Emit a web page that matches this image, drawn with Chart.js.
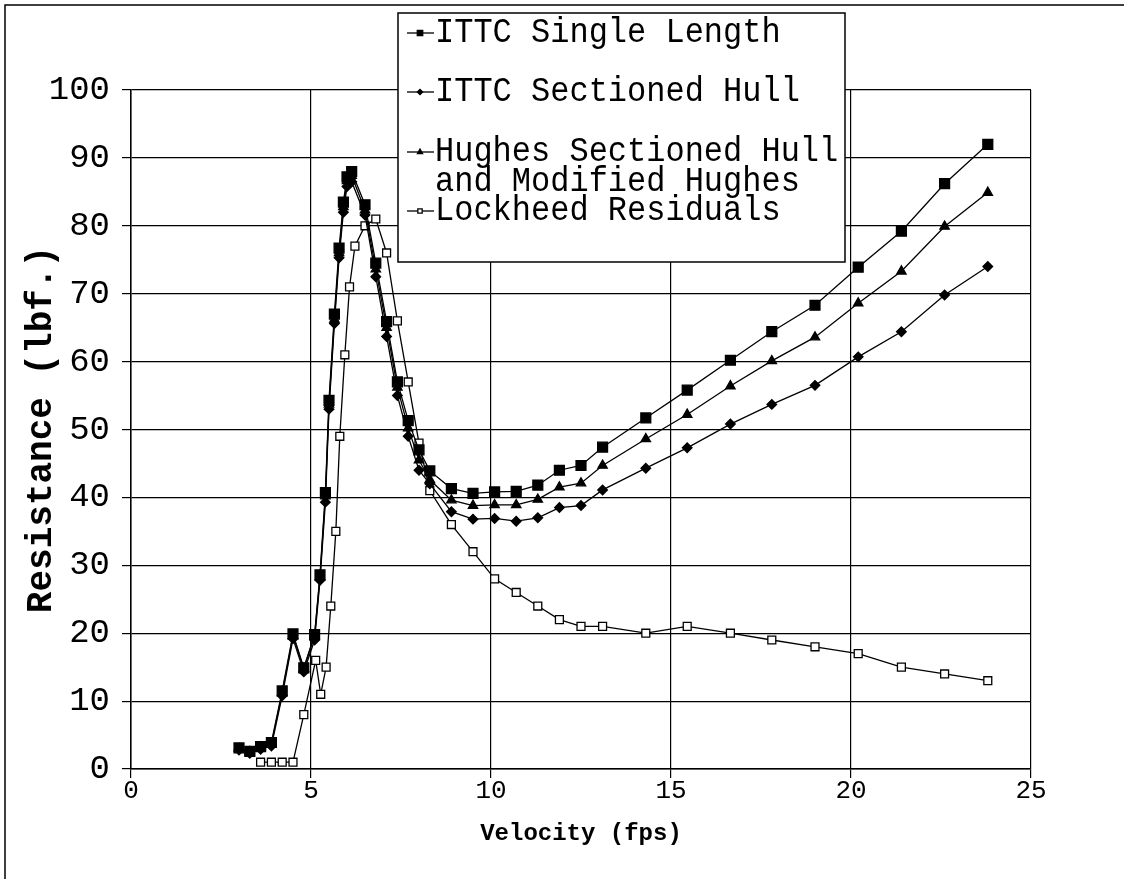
<!DOCTYPE html>
<html>
<head>
<meta charset="utf-8">
<title>Resistance vs Velocity</title>
<script src="https://cdn.jsdelivr.net/npm/chart.js@4.4.1/dist/chart.umd.min.js"></script>
<style>
	html, body { margin: 0; padding: 0; background: #fff; }
	#grafico { display: block; }
</style>
</head>
<body>
<canvas id="grafico" width="1124" height="879"></canvas>
<script>
// velocity (fps) shared by the three ITTC / Hughes runs
var velocidade = [3.0, 3.3, 3.6, 3.9, 4.2, 4.5, 4.8, 5.1, 5.25, 5.4, 5.5, 5.65, 5.78, 5.9, 6.0, 6.13,
	6.5, 6.8, 7.1, 7.4, 7.7, 8.0, 8.3, 8.9, 9.5, 10.1, 10.7, 11.3, 11.9, 12.5, 13.1,
	14.3, 15.45, 16.65, 17.8, 19.0, 20.2, 21.4, 22.6, 23.8];

// resistance (lbf.)
var ittcSingleLength = [3.1, 2.6, 3.3, 3.9, 11.5, 19.9, 14.9, 19.8, 28.6, 40.7, 54.3, 67.0, 76.7, 83.5, 87.2, 88.0,
	83.1, 74.5, 65.9, 57.0, 51.3, 47.0, 43.9, 41.3, 40.6, 40.8, 40.9, 41.8, 44.0, 44.7, 47.4,
	51.7, 55.8, 60.2, 64.4, 68.3, 73.9, 79.2, 86.2, 92.0];

var ittcSectionedHull = [2.8, 2.3, 2.9, 3.4, 10.8, 19.2, 14.3, 19.0, 27.8, 39.3, 53.0, 65.6, 75.3, 82.0, 85.8, 86.5,
	81.6, 72.5, 63.7, 55.0, 49.0, 44.0, 42.0, 37.9, 36.8, 36.9, 36.5, 37.0, 38.5, 38.8, 41.1,
	44.3, 47.3, 50.8, 53.7, 56.5, 60.7, 64.4, 69.8, 74.0];

var hughesSectionedHull = [3.0, 2.5, 3.2, 3.7, 11.2, 19.6, 14.8, 19.6, 28.3, 40.2, 53.7, 66.2, 76.0, 82.8, 86.6, 87.4,
	82.3, 73.6, 65.0, 56.2, 50.2, 45.5, 42.6, 39.6, 38.8, 38.9, 38.9, 39.7, 41.5, 42.1, 44.7,
	48.6, 52.2, 56.4, 60.1, 63.6, 68.6, 73.3, 79.9, 84.9];

var velocidadeLockheed = [3.6, 3.9, 4.2, 4.5, 4.8, 5.13, 5.27, 5.42, 5.55, 5.69, 5.8, 5.94, 6.07, 6.22,
	6.5, 6.8, 7.1, 7.4, 7.7, 8.0, 8.3, 8.9, 9.5, 10.1, 10.7, 11.3, 11.9, 12.5, 13.1,
	14.3, 15.45, 16.65, 17.8, 19.0, 20.2, 21.4, 22.6, 23.8];

var lockheedResiduals = [1, 1, 1, 1, 8, 16, 11, 15, 24, 35, 49, 61, 71, 77,
	80, 81, 76, 66, 57, 48, 41, 36, 32, 28, 26, 24, 22, 21, 21,
	20, 21, 20, 19, 18, 17, 15, 14, 13];

var rotulosSeries = ['ITTC Single Length', 'ITTC Sectioned Hull',
	'Hughes Sectioned Hull and Modified Hughes', 'Lockheed Residuals'];

var FONTE = "'Liberation Mono', 'Courier New', monospace";

var Resistencia = Resistencia || {};

// legend box drawn by hand: the Hughes entry wraps onto two lines
Resistencia.Legenda = {
	id: 'legendaCaixa',
	afterDraw: function(chart, args, opts) {
		var ctx = chart.ctx;
		ctx.save();
		ctx.fillStyle = '#fff';
		ctx.fillRect(opts.x, opts.y, opts.w, opts.h);
		ctx.strokeStyle = '#000';
		ctx.lineWidth = 1.5;
		ctx.strokeRect(opts.x, opts.y, opts.w, opts.h);

		ctx.font = opts.tamanho + 'px ' + FONTE;
		ctx.textBaseline = 'middle';
		ctx.textAlign = 'left';

		opts.itens.forEach(function(item) {
			var ds = chart.data.datasets[item.indice];
			var y = item.linhas[0];
			ctx.strokeStyle = '#000';
			ctx.lineWidth = 1.3;
			ctx.beginPath();
			ctx.moveTo(opts.x + 9, y);
			ctx.lineTo(opts.x + 36, y);
			ctx.stroke();
			ctx.fillStyle = ds.pointBackgroundColor;
			Chart.helpers.drawPoint(ctx, {
				pointStyle: ds.pointStyle,
				radius: ds.pointRadius * 0.55,
				rotation: 0,
				borderWidth: 1.2
			}, opts.x + 22, y);
			ctx.fillStyle = '#000';
			item.textos.forEach(function(t, i) {
				// the print is a little taller than wide
				ctx.save();
				ctx.translate(opts.x + 37, item.linhas[i]);
				ctx.scale(1, 1.12);
				ctx.fillText(t, 0, 0);
				ctx.restore();
			});
		});
		ctx.restore();
	}
};

// thin frame round the whole figure
Resistencia.Moldura = {
	id: 'moldura',
	beforeDraw: function(chart) {
		var ctx = chart.ctx;
		ctx.save();
		ctx.strokeStyle = '#000';
		ctx.lineWidth = 1.5;
		ctx.beginPath();
		ctx.moveTo(5, chart.height);
		ctx.lineTo(5, 5);
		ctx.lineTo(chart.width, 5);
		ctx.stroke();
		ctx.restore();
	}
};

Resistencia.Grafico = (function() {

	function Grafico() {
		this.ctx = document.getElementById('grafico').getContext('2d');
	}

	function pares(xs, ys) {
		return xs.map(function(x, i) { return { x: x, y: ys[i] }; });
	}

	function serie(rotulo, xs, ys, estilo, raio, preenchido) {
		return {
			label: rotulo,
			data: pares(xs, ys),
			showLine: true,
			borderColor: '#000',
			borderWidth: 1.3,
			pointStyle: estilo,
			pointRadius: raio,
			pointBorderColor: '#000',
			pointBorderWidth: 1.3,
			pointBackgroundColor: preenchido ? '#000' : '#fff',
			tension: 0
		};
	}

	Grafico.prototype.iniciar = function() {
		new Chart(this.ctx, {
			type: 'scatter',
			data: {
				datasets: [
					serie(rotulosSeries[0], velocidade, ittcSingleLength, 'rect', 7, true),
					serie(rotulosSeries[1], velocidade, ittcSectionedHull, 'rectRot', 4.8, true),
					serie(rotulosSeries[2], velocidade, hughesSectionedHull, 'triangle', 5.4, true),
					serie(rotulosSeries[3], velocidadeLockheed, lockheedResiduals, 'rect', 5.6, false)
				]
			},
			options: {
				responsive: false,
				animation: false,
				events: [],
				layout: { padding: { top: 90, right: 93, left: 0, bottom: 0 } },
				scales: {
					x: {
						type: 'linear',
						min: 0,
						max: 25,
						afterFit: function(s) { s.height = 110; },
						ticks: { stepSize: 5, color: '#000', padding: -2, font: { family: FONTE, size: 26 } },
						grid: { color: '#000', lineWidth: 1.2, tickLength: 9 },
						border: { color: '#000', width: 1.5 },
						title: {
							display: true,
							text: 'Velocity (fps)',
							color: '#000',
							font: { family: FONTE, size: 24, weight: 'bold' },
							padding: { bottom: 31 }
						}
					},
					y: {
						min: 0,
						max: 100,
						afterFit: function(s) { s.width = 131; },
						ticks: { stepSize: 10, color: '#000', padding: 12, font: { family: FONTE, size: 34 } },
						grid: { color: '#000', lineWidth: 1.2, tickLength: 9 },
						border: { color: '#000', width: 1.5 },
						title: {
							display: true,
							text: 'Resistance (lbf.)',
							color: '#000',
							font: { family: FONTE, size: 36, weight: 'bold' },
							padding: { top: 20 }
						}
					}
				},
				plugins: {
					legend: { display: false },
					tooltip: { enabled: false },
					legendaCaixa: {
						x: 398, y: 13, w: 447, h: 249, tamanho: 32,
						itens: [
							{ indice: 0, textos: ['ITTC Single Length'], linhas: [33] },
							{ indice: 1, textos: ['ITTC Sectioned Hull'], linhas: [92] },
							{ indice: 2, textos: ['Hughes Sectioned Hull', 'and Modified Hughes'], linhas: [152, 182] },
							{ indice: 3, textos: ['Lockheed Residuals'], linhas: [211] }
						]
					}
				}
			},
			plugins: [Resistencia.Moldura, Resistencia.Legenda]
		});
	};

	return Grafico;

}());

var grafico = new Resistencia.Grafico();
grafico.iniciar();
</script>
</body>
</html>
